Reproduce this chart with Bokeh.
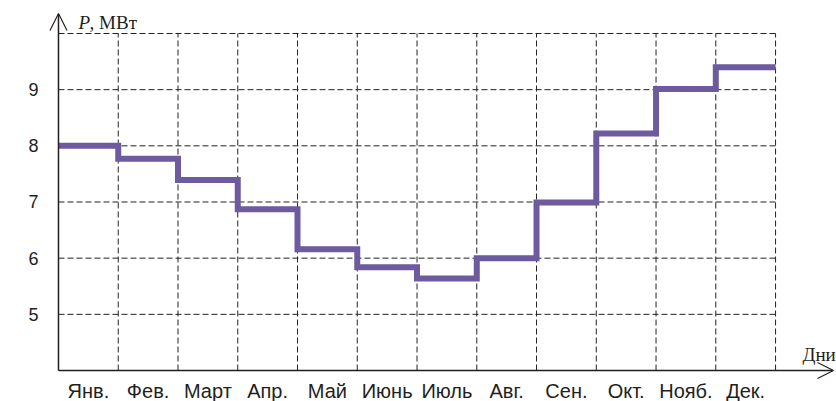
from bokeh.plotting import figure
from bokeh.models import Range1d, FixedTicker, Arrow, OpenHead, Label, ColumnDataSource
from bokeh.core.properties import value
from bokeh.embed import file_html
from bokeh.resources import INLINE

# ---- data ----
months = ["Янв.", "Фев.", "Март", "Апр.", "Май", "Июнь", "Июль", "Авг.", "Сен.", "Окт.", "Нояб.", "Дек."]
power = [8.0, 7.77, 7.39, 6.87, 6.16, 5.84, 5.64, 6.0, 6.99, 8.22, 9.01, 9.40]
y_ticks = [5, 6, 7, 8, 9]
grid_levels = [5, 6, 7, 8, 9, 10]
y_label_italic = "P"
y_label_rest = ", МВт"
x_label = "Дни"

n = len(months)
x_min, x_max = -0.301, 13.02
y_base = 4
y_min, y_max = 3.4481, 10.5875
x_arrow_end = 12.97
y_arrow_end = 10.356
month_label_y = 3.63

p = figure(width=836, height=401, output_backend="svg", toolbar_location=None,
           x_range=Range1d(x_min, x_max), y_range=Range1d(y_min, y_max),
           x_axis_location=None,
           min_border_left=40, min_border_right=0, min_border_top=0, min_border_bottom=0)
p.outline_line_color = None
p.xgrid.visible = False
p.ygrid.visible = False
p.background_fill_color = "white"

ink = "#231f20"

# dashed grid
top = grid_levels[-1]
p.segment(x0=[0] * len(grid_levels), x1=[n] * len(grid_levels), y0=grid_levels, y1=grid_levels,
          line_color="#222222", line_width=1, line_dash="6 3")
vx = list(range(1, n + 1))
p.segment(x0=vx, x1=vx, y0=[y_base] * n, y1=[top] * n,
          line_color="#222222", line_width=1, line_dash="6 3")

# step line
xs = list(range(n + 1))
ys = power + [power[-1]]
p.step(xs, ys, mode="after", line_color="#6e5a9f", line_width=6, line_join="miter", line_cap="butt")

# month labels (centred in each month)
src = ColumnDataSource(dict(x=[i + 0.5 for i in range(n)], y=[month_label_y] * n, t=months))
p.text(x="x", y="y", text="t", source=src, text_font=value("Liberation Sans"),
       text_font_size="20px", text_color=ink, text_align="center", text_baseline="alphabetic")

# y axis (labels only; axis line drawn as arrow)
ya = p.yaxis[0]
ya.ticker = FixedTicker(ticks=y_ticks)
ya.major_tick_line_color = None
ya.minor_tick_line_color = None
ya.major_tick_out = 0
ya.major_label_standoff = 2
ya.major_label_text_font = "Liberation Sans"
ya.major_label_text_font_size = "18px"
ya.major_label_text_color = ink
ya.axis_line_color = None

# axis lines with arrow heads
p.add_layout(Arrow(end=OpenHead(size=16, line_width=1.2, line_color=ink),
                   x_start=0, y_start=y_base, x_end=x_arrow_end, y_end=y_base,
                   line_color=ink, line_width=1.5))
p.add_layout(Arrow(end=OpenHead(size=17, line_width=1.2, line_color=ink),
                   x_start=0, y_start=y_base, x_end=0, y_end=y_arrow_end,
                   line_color=ink, line_width=1.5))

# axis titles
p.add_layout(Label(x=0.335, y=10.2, text=y_label_italic, text_font="Liberation Serif",
                   text_font_style="italic", text_font_size="19px", text_color=ink,
                   text_baseline="alphabetic"))
p.add_layout(Label(x=0.52, y=10.2, text=y_label_rest, text_font="Liberation Serif",
                   text_font_size="19px", text_color=ink, text_baseline="alphabetic"))
p.add_layout(Label(x=12.45, y=4.28, text=x_label, text_font="Liberation Serif",
                   text_font_size="19px", text_color=ink, text_baseline="alphabetic"))

open("out.html", "w").write(file_html(p, INLINE))
